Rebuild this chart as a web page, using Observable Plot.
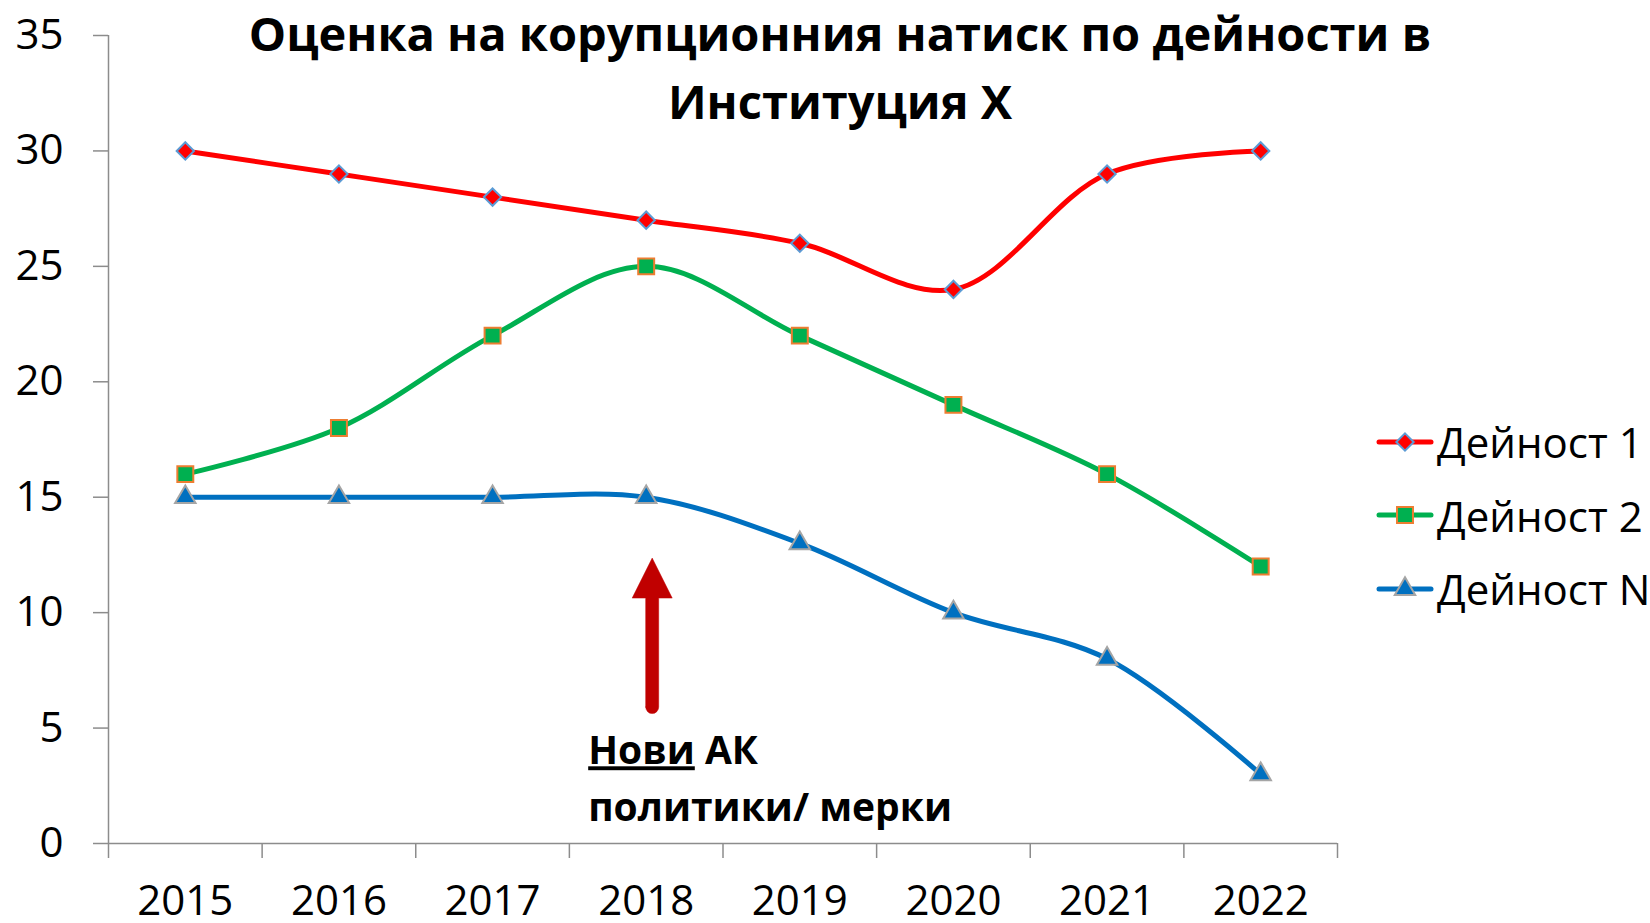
<!DOCTYPE html>
<html>
<head>
<meta charset="utf-8">
<script src="https://cdn.jsdelivr.net/npm/d3@7"></script>
<script src="https://cdn.jsdelivr.net/npm/@observablehq/plot@0.6"></script>
<style>
  html, body { margin: 0; padding: 0; background: #fff; }
  #wrap { position: relative; width: 1650px; height: 923px; overflow: hidden; font-family: "Open Sans", "Noto Sans", sans-serif; }
  #legend { position: absolute; left: 1376px; top: 405px; }
  .lrow { display: flex; align-items: center; height: 73.5px; font-size: 42px; color: #000; white-space: nowrap; }
  .lrow svg { margin-right: 3px; }
</style>
</head>
<body>
<div id="wrap"><div id="chart"></div><div id="legend"></div></div>
<script>
// ---- data ----
const years = [2015, 2016, 2017, 2018, 2019, 2020, 2021, 2022];
const yearLabels = ["2015", "2016", "2017", "2018", "2019", "2020", "2021", "2022"];
const seriesNames = ["Дейност 1", "Дейност 2", "Дейност N"];
const activity1 = [30, 29, 28, 27, 26, 24, 29, 30];
const activity2 = [16, 18, 22, 25, 22, 19, 16, 12];
const activityN = [15, 15, 15, 15, 13, 10, 8, 3];
const yTicks = [0, 5, 10, 15, 20, 25, 30, 35];
const titleText = "Оценка на корупционния натиск по дейности в\nИнституция Х";
const annotationLines = ["Нови АК", "политики/ мерки"];
const annotationYear = 2018;

// ---- styles ----
const lineColors = ["#FF0000", "#00B050", "#0070C0"];
const markerStroke = ["#5B9BD5", "#ED7D31", "#A5A5A5"];
const markerSymbol = ["diamond2", "square", "triangle"];
const markerR = [7.8, 9.0, 7.6];

const values = [activity1, activity2, activityN];
const rows = [];
seriesNames.forEach((s, si) => years.forEach((yr, i) => rows.push({series: s, si, year: yr, value: values[si][i]})));

const halfTicks = years.map(y => y - 0.5).concat([years[years.length - 1] + 0.5]);

const arrowShape = {
  draw(context, l) {
    const w = 13, hw = 40, hl = 40;
    context.moveTo(-w / 2, 0);
    context.lineTo(-w / 2, -(l - hl));
    context.lineTo(-hw / 2, -(l - hl));
    context.lineTo(0, -l);
    context.lineTo(hw / 2, -(l - hl));
    context.lineTo(w / 2, -(l - hl));
    context.lineTo(w / 2, 0);
    context.arc(0, 0, w / 2, 0, Math.PI);
    context.closePath();
  }
};

const marks = [
  Plot.ruleX([years[0] - 0.5], {stroke: "#8c8c8c", strokeWidth: 1.5}),
  Plot.ruleY([0], {stroke: "#8c8c8c", strokeWidth: 1.5}),
  Plot.axisY({ticks: yTicks, tickSize: 15, tickPadding: 30, stroke: "#8c8c8c", strokeWidth: 1.5, fontSize: 42, label: null, tickFormat: d => String(d)}),
  Plot.axisX({ticks: halfTicks, tickSize: 15, stroke: "#8c8c8c", strokeWidth: 1.5, tickFormat: () => "", label: null}),
  Plot.axisX({ticks: years, tickSize: 0, tickPadding: 42, fontSize: 42, label: null, tickFormat: d => yearLabels[years.indexOf(d)]}),
];
seriesNames.forEach((s, si) => {
  const d = rows.filter(r => r.si === si);
  marks.push(Plot.line(d, {x: "year", y: "value", stroke: lineColors[si], strokeWidth: 5, curve: "catmull-rom", strokeLinecap: "round"}));
});
seriesNames.forEach((s, si) => {
  const d = rows.filter(r => r.si === si);
  marks.push(Plot.dot(d, {x: "year", y: "value", symbol: () => markerSymbol[si], r: markerR[si], fill: lineColors[si], stroke: markerStroke[si], strokeWidth: 2}));
});
marks.push(
  Plot.vector([annotationYear], {x: d => d, y: 5.91, dx: 6, length: 149, rotate: 0, anchor: "start", shape: arrowShape, fill: "#C00000", stroke: "#C00000", strokeWidth: 0.5}),
  Plot.text([annotationLines.join("\n")], {x: annotationYear, y: 5.17, dx: -58, textAnchor: "start", lineAnchor: "top", lineHeight: 1.45, fontSize: 39, fontWeight: "bold", fill: "#000", text: d => d}),
  Plot.text([titleText], {frameAnchor: "top", dx: 117, dy: 28, lineAnchor: "middle", lineHeight: 1.45, fontSize: 47, fontWeight: "bold", fill: "#000", text: d => d})
);

const chart = Plot.plot({
  width: 1650,
  height: 923,
  marginLeft: 108,
  marginRight: 313,
  marginTop: 35,
  marginBottom: 80,
  style: {fontFamily: "'Open Sans', 'Noto Sans', sans-serif", color: "#000", background: "transparent", overflow: "visible"},
  x: {type: "linear", domain: [years[0] - 0.5, years[years.length - 1] + 0.5], axis: null},
  y: {domain: [0, 35], axis: null},
  marks
});
document.getElementById("chart").appendChild(chart);

// underline first word of annotation
d3.select(chart).selectAll("text").each(function() {
  d3.select(this).selectAll("tspan").each(function() {
    const s = d3.select(this);
    if (s.text() === annotationLines[0]) {
      const parts = annotationLines[0].split(" ");
      s.text("");
      s.append("tspan").attr("text-decoration", "underline").text(parts[0]);
      s.append("tspan").text(" " + parts.slice(1).join(" "));
    }
  });
});

// legend
const legend = d3.select("#legend");
const symMap = {diamond2: d3.symbolDiamond2, square: d3.symbolSquare, triangle: d3.symbolTriangle};
seriesNames.forEach((s, si) => {
  const row = legend.append("div").attr("class", "lrow");
  const svg = row.append("svg").attr("width", 58).attr("height", 30);
  svg.append("line").attr("x1", 3).attr("x2", 55).attr("y1", 15).attr("y2", 15)
    .attr("stroke", lineColors[si]).attr("stroke-width", 5).attr("stroke-linecap", "round");
  svg.append("path").attr("transform", "translate(29,15)")
    .attr("d", d3.symbol(symMap[markerSymbol[si]], Math.PI * markerR[si] * markerR[si])())
    .attr("fill", lineColors[si]).attr("stroke", markerStroke[si]).attr("stroke-width", 2);
  row.append("span").text(s);
});
</script>
</body>
</html>
